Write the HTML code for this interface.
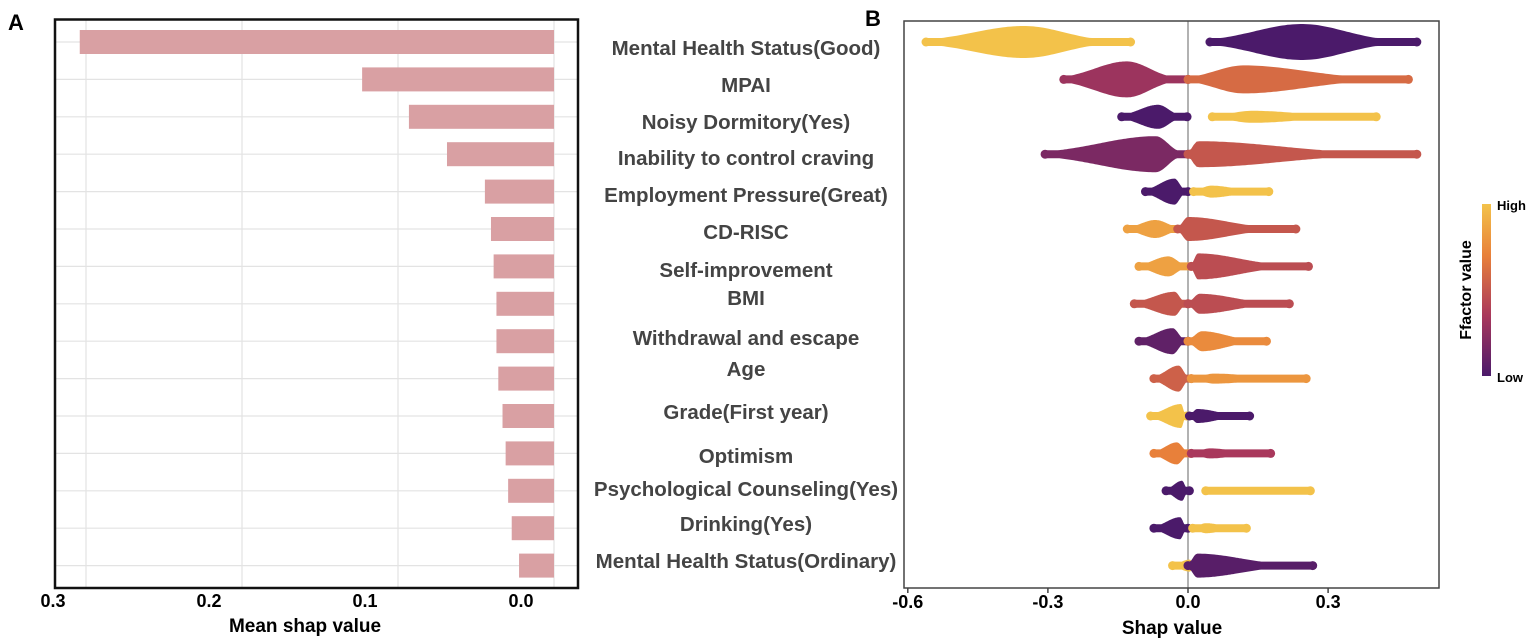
<!DOCTYPE html>
<html><head><meta charset="utf-8"><style>
body{margin:0;background:#fff}
svg{display:block;font-family:"Liberation Sans",Arial,sans-serif}
</style></head><body>
<svg id="chart" width="1535" height="641" viewBox="0 0 1535 641">
<defs>
<linearGradient id="cbar" x1="0" y1="1" x2="0" y2="0">
<stop offset="0" stop-color="#4b1a6a"/><stop offset="0.35" stop-color="#a9385c"/><stop offset="0.7" stop-color="#e8803a"/><stop offset="1" stop-color="#f3c24a"/>
</linearGradient>
</defs>
<text x="8" y="30" font-size="22" font-weight="bold">A</text>
<text x="865" y="26" font-size="22" font-weight="bold">B</text>
<g id="left"></g>
<g id="labels"></g>
<g id="right"></g>
<g>
<rect x="1482" y="204" width="9" height="172" fill="url(#cbar)"/>
<text x="1497" y="210" font-size="13" font-weight="bold">High</text>
<text x="1497" y="382" font-size="13" font-weight="bold">Low</text>
<text transform="translate(1471,290) rotate(-90)" text-anchor="middle" font-size="16" font-weight="bold">Ffactor value</text>
</g>
</svg>
<script>
const features=["Mental Health Status(Good)","MPAI","Noisy Dormitory(Yes)","Inability to control craving","Employment Pressure(Great)","CD-RISC","Self-improvement","BMI","Withdrawal and escape","Age","Grade(First year)","Optimism","Psychological Counseling(Yes)","Drinking(Yes)","Mental Health Status(Ordinary)"];
const meanShap=[0.304,0.123,0.093,0.0686,0.0443,0.0404,0.0387,0.0369,0.0369,0.0357,0.033,0.031,0.0294,0.0271,0.0224];
const labelY=[48,85,122,158,195,232,270,298,338,369,412,456,489,524,561];
const leftTicks=[0.3,0.2,0.1,0.0];
const leftTickLabels=["0.3","0.2","0.1","0.0"];
const rightTicks=[-0.6,-0.3,0,0.3];
const rightTickLabels=["-0.6","-0.3","0.0","0.3"];
// blobs: row, min, peak, max, halfHeight, colorValue(0 low..1 high)
const blobRows=[0,0,1,1,2,2,3,3,4,4,5,5,6,6,7,7,8,8,9,9,10,10,11,11,12,12,13,13,14,14];
const blobMin=[-0.561,0.047,-0.266,0,-0.142,0.052,-0.306,0,-0.091,0.012,-0.130,-0.022,-0.105,0.007,-0.115,0,-0.105,0,-0.073,0.007,-0.080,0.003,-0.073,0.007,-0.047,0.038,-0.073,0.010,-0.033,0];
const blobPeak=[-0.351,0.244,-0.131,0.119,-0.064,0.137,-0.069,0.021,-0.029,0.050,-0.070,0.0,-0.042,0.021,-0.029,0.025,-0.033,0.030,-0.020,0.056,-0.015,0.020,-0.024,0.047,-0.013,0.056,-0.017,0.038,0.003,0.020];
const blobMax=[-0.123,0.490,0,0.472,-0.002,0.403,0,0.490,0,0.173,0,0.231,0.007,0.258,0,0.217,0,0.168,0.007,0.253,-0.003,0.132,0.007,0.177,0.003,0.262,0,0.125,0.020,0.267];
const blobHH=[16,18,18,14,12,6,18,13,13,6,9,12,10,13,12,10,13,10,13,5,12,7,11,5,10,3,11,5,6,12];
const blobColor=[1,0,0.3,0.6,0,1,0.18,0.5,0,1,0.85,0.5,0.85,0.45,0.5,0.45,0.08,0.75,0.55,0.8,1,0,0.7,0.35,0,1,0,1,1,0.05];

const NS="http://www.w3.org/2000/svg";
function mk(tag,attrs,parent){const e=document.createElementNS(NS,tag);for(const k in attrs)e.setAttribute(k,attrs[k]);parent.appendChild(e);return e;}
const rowY=i=>42+i*37.4;
const L=document.getElementById('left');
const xL=v=>554-v*1560;
leftTicks.forEach((t,i)=>{
 const g=mk('line',{x1:xL(t),x2:xL(t),y1:20,y2:588,stroke:'#e3e3e3','stroke-width':1.2},L);
 
 
 const tx=mk('text',{x:xL(t)-33,y:607,'font-size':18,'font-weight':'bold','text-anchor':'middle'},L);
 tx.textContent=leftTickLabels[i];
 
 
});
features.forEach((f,i)=>{
 const g=mk('line',{x1:56,x2:578,y1:rowY(i),y2:rowY(i),stroke:'#e3e3e3','stroke-width':1.2},L);
 
 
});
meanShap.forEach((v,i)=>{
 const r=mk('rect',{x:xL(v),y:rowY(i)-12,width:xL(0)-xL(v),height:24,fill:'#d9a0a3'},L);
 
 
});
const fr=mk('rect',{x:55,y:19.5,width:523,height:568.5,fill:'none',stroke:'#111','stroke-width':2.5},L);


const lt=mk('text',{x:305,y:632,'font-size':19,'font-weight':'bold','text-anchor':'middle'},L);
lt.textContent='Mean shap value';


const LB=document.getElementById('labels');
features.forEach((f,i)=>{
 const t=mk('text',{x:746,y:labelY[i]+7,'font-size':20.5,'font-weight':'bold','text-anchor':'middle',fill:'#444'},LB);
 t.textContent=f;
 
 
});
const R=document.getElementById('right');
const xR=v=>1188+v*467;
const zl=mk('line',{x1:xR(0),x2:xR(0),y1:21,y2:588,stroke:'#999','stroke-width':1.5},R);


const stops=[[0,[75,26,106]],[0.35,[169,56,92]],[0.7,[232,128,58]],[1,[243,194,74]]];
function col(v){for(let i=1;i<stops.length;i++){if(v<=stops[i][0]){const a=stops[i-1],b=stops[i];const t=(v-a[0])/(b[0]-a[0]);return 'rgb('+a[1].map((c,k)=>Math.round(c+(b[1][k]-c)*t)).join(',')+')';}}return 'rgb(243,194,74)';}
blobRows.forEach((r,i)=>{
 const cy=rowY(r),x0=xR(blobMin[i]),xp=xR(blobPeak[i]),x1=xR(blobMax[i]),hh=blobHH[i];
 const sl=Math.max(3,(xp-x0)/1.4),sr=Math.max(3,(x1-xp)/1.9);
 const pts=[];const N=80;
 for(let k=0;k<=N;k++){const x=x0+(x1-x0)*k/N;const s=x<xp?sl:sr;const h=Math.max(4,hh*Math.exp(-Math.pow((x-xp)/s,2)));pts.push([x,h]);}
 let d='M'+pts.map(p=>p[0].toFixed(1)+','+(cy-p[1]).toFixed(1)).join(' L');
 d+=' L'+pts.slice().reverse().map(p=>p[0].toFixed(1)+','+(cy+p[1]).toFixed(1)).join(' L')+'Z';
 const c=col(blobColor[i]);
 const p=mk('path',{d:d,fill:c},R);
 
 
 [x0,x1].forEach(x=>{const e=mk('circle',{cx:x,cy:cy,r:4.5,fill:c},R);
  
  });
});
const fr2=mk('rect',{x:904,y:21,width:535,height:567,fill:'none',stroke:'#444','stroke-width':1.5},R);


rightTicks.forEach((t,i)=>{
 const tk=mk('line',{x1:xR(t),x2:xR(t),y1:588,y2:593,stroke:'#444','stroke-width':1.5},R);
 
 
 const tx=mk('text',{x:xR(t),y:608,'font-size':18,'font-weight':'bold','text-anchor':'middle'},R);
 tx.textContent=rightTickLabels[i];
 
 
});
const rt=mk('text',{x:1172,y:634,'font-size':19,'font-weight':'bold','text-anchor':'middle'},R);
rt.textContent='Shap value';


</script>
</body></html>
